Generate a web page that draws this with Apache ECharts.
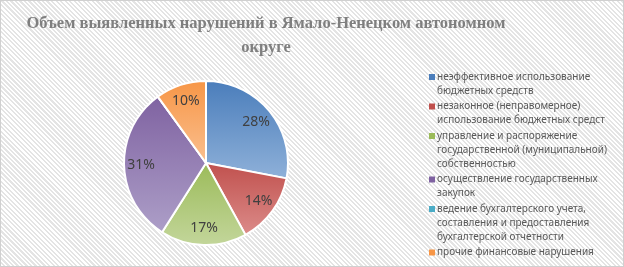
<!DOCTYPE html>
<html>
<head>
<meta charset="utf-8">
<script src="https://cdn.jsdelivr.net/npm/echarts@6/dist/echarts.min.js"></script>
<style>
    html, body { margin: 0; padding: 0; }
    #chart {
        width: 622px;
        height: 265px;
        border: 1px solid #d0d0d0;
        background: repeating-linear-gradient(45deg, #ffffff 0px, #ffffff 1.6px, #e4e4e4 1.6px, #e4e4e4 3.2px);
    }
</style>
</head>
<body>
<div id="chart"></div>
<script>
// 분류 (legend order)
const categories = [
    'неэффективное использование\nбюджетных средств',
    'незаконное (неправомерное)\nиспользование бюджетных средст',
    'управление и распоряжение\nгосударственной (муниципальной)\nсобственностью',
    'осуществление государственных\nзакупок',
    'ведение бухгалтерского учета,\nсоставления и предоставления\nбухгалтерской отчетности',
    'прочие финансовые нарушения'
];
const values = [28, 14, 17, 31, 0, 10];

// Office-style palette: top / bottom gradient stops
const topColors = ['#4a7dbb', '#c0504d', '#9bbb59', '#7f62a1', '#4bacc6', '#f79646'];
const bottomColors = ['#8fb1d9', '#dc8c8a', '#c3d69b', '#ad9fc8', '#93cddd', '#fac090'];

const chart = echarts.init(document.getElementById('chart'));

const grad = i => new echarts.graphic.LinearGradient(0, 0, 0, 1, [
    { offset: 0, color: topColors[i] },
    { offset: 1, color: bottomColors[i] }
]);

// rich styles for legend markers (marker sits on first line)
const rich = { t: { fontSize: 10, color: '#595959', lineHeight: 14, fontFamily: 'Noto Sans' },
               ind: { width: 8 } };
topColors.forEach((c, i) => {
    rich['m' + i] = { width: 6, height: 6, backgroundColor: c, align: 'left' };
    rich['g' + i] = { width: 2 };
});

const legendFormatter = name => {
    const i = categories.indexOf(name);
    const lines = name.split('\n');
    return lines.map((l, k) => k === 0
        ? `{m${i}|}{g${i}|}{t|${l}}`
        : `{ind|}{t|${l}}`).join('\n');
};

const pieData = categories.map((name, i) => ({
    name,
    value: values[i],
    itemStyle: { color: grad(i) }
}));

// transparent twin pie only for placing labels further out
const labelData = categories.map((name, i) => ({
    name,
    value: values[i],
    label: { show: values[i] > 0 }
}));

chart.setOption({
    animation: false,
    title: {
        text: 'Объем выявленных нарушений в Ямало-Ненецком автономном\nокруге',
        left: 260,
        textAlign: 'center',
        top: 6,
        textStyle: {
            fontFamily: 'Liberation Serif',
            fontWeight: 'bold',
            fontSize: 16.5,
            lineHeight: 24,
            color: '#7f7f7f'
        }
    },
    legend: {
        orient: 'vertical',
        left: 416,
        top: 64,
        itemGap: 1.5,
        itemWidth: 1,
        itemHeight: 1,
        itemStyle: { opacity: 0 },
        selectedMode: false,
        data: categories,
        formatter: legendFormatter,
        textStyle: { rich: rich, lineHeight: 14 }
    },
    series: [
        {
            type: 'pie',
            center: [205, 162],
            radius: 82,
            startAngle: 90,
            clockwise: true,
            label: { show: false },
            labelLine: { show: false },
            itemStyle: { borderColor: '#ffffff', borderWidth: 2 },
            emphasis: { disabled: true },
            data: pieData
        },
        {
            type: 'pie',
            center: [205, 162],
            radius: 124,
            startAngle: 90,
            clockwise: true,
            silent: true,
            legendHoverLink: false,
            itemStyle: { color: 'rgba(0,0,0,0)' },
            label: {
                show: true,
                position: 'inside',
                formatter: '{c}%',
                fontFamily: 'Noto Sans',
                fontSize: 14,
                color: '#404040'
            },
            labelLine: { show: false },
            data: labelData
        }
    ]
});
</script>
</body>
</html>
